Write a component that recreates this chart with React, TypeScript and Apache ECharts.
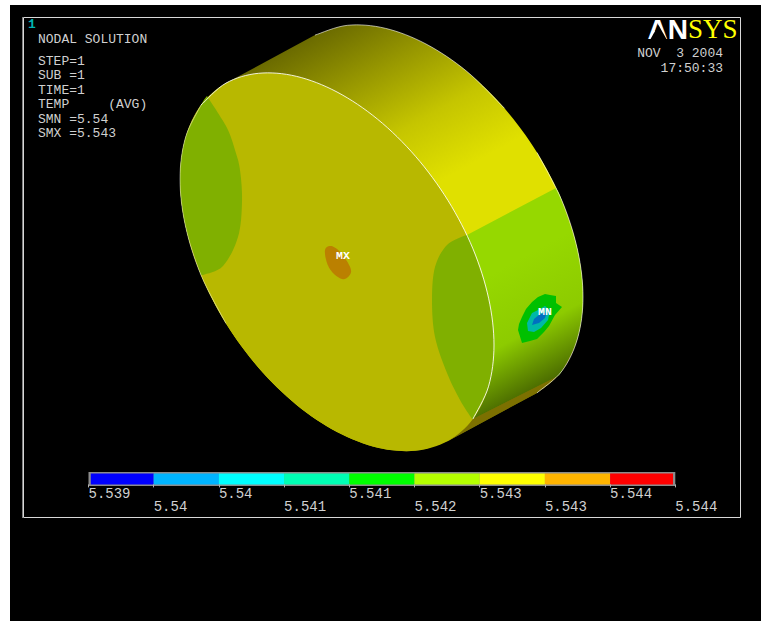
import React, { useEffect, useRef } from "react";
import * as echarts from "echarts";

type P = number[];

// ---- legend data
const legendTicks = [0, 1, 2, 3, 4, 5, 6, 7, 8, 9];
const legendLabels = ["5.539", "5.54", "5.54", "5.541", "5.541", "5.542", "5.543", "5.543", "5.544", "5.544"];
const legendColors = ["#0000ff", "#00b4ff", "#00ffff", "#00ffb4", "#00ff00", "#b4ff00", "#ffff00", "#ffb400", "#ff0000"];
const legendEdges = [0.035, 1, 2, 3, 4, 5, 6, 7, 8, 8.965];

// ---- geometry (image pixels)
const pageArea: P[] = [[10, 5], [761, 5], [761, 621], [10, 621]];
const frameLine: P[] = [[23.5, 17.5], [740.5, 17.5], [740.5, 517.5], [23.5, 517.5], [23.5, 17.5]];
const frameLeft: P[] = [[22.5, 17], [22.5, 518]];

const frontOutline: P[] = [
  [494, 345], [488.6, 386.2], [473, 418.9], [448, 440.9], [415.5, 450.7], [377.7, 447.7], [337, 432], [296.3, 404.7],
  [258.5, 367.7], [226, 323.5], [201, 275.1], [185.4, 225.8], [180, 179], [185.4, 137.8], [201, 105.1], [226, 83.1],
  [258.5, 73.3], [296.3, 76.3], [337, 92], [377.7, 119.3], [415.5, 156.3], [448, 200.5], [473, 248.9], [488.6, 298.2],
];
const backArc: P[] = [
  [315, 35.1], [347.5, 25.3], [385.3, 28.3], [426, 44], [466.7, 71.3], [504.5, 108.3], [537, 152.5], [562, 200.9],
  [577.6, 250.2], [583, 297], [577.6, 338.2], [562, 370.9], [537, 392.9],
];
const backEdgeTop: P[] = [[315, 35.1], [347.5, 25.3], [385.3, 28.3], [426, 44], [466.7, 71.3], [504.5, 108.3]];
const backEdgeRight: P[] = [[537, 152.5], [562, 200.9], [577.6, 250.2], [583, 297], [577.6, 338.2], [562, 370.9], [537, 392.9]];
const frontNearArc: P[] = [
  [448, 440.9], [415.5, 450.7], [377.7, 447.7], [337, 432], [296.3, 404.7], [258.5, 367.7], [226, 323.5], [201, 275.1],
  [185.4, 225.8], [180, 179], [185.4, 137.8], [201, 105.1], [226, 83.1],
];
const sideGreenFront: P[] = [[467, 235], [473, 248.9], [488.6, 298.2], [494, 345], [488.6, 386.2], [473, 418.9]];
const sideGreenBack: P[] = [[557.7, 376.2], [562, 370.9], [577.6, 338.2], [583, 297], [577.6, 250.2], [562, 200.9], [556, 188]];
const stripBack: P[] = [[557.7, 376.2], [548, 385], [537, 392.9]];
const stripFront: P[] = [[448, 440.9], [473, 418.9]];
const faceGreenLeftInner: P[] = [[207, 96], [218, 113], [228, 130], [235, 150], [240, 170], [242, 202], [238, 237], [223, 266], [203, 275]];
const faceGreenLeftOuter: P[] = [[201, 275.1], [185.4, 225.8], [180, 179], [185.4, 137.8], [201, 105.1], [207, 96]];
const faceGreenRightInner: P[] = [[466, 235], [447, 245], [435, 267], [432, 300], [435, 337], [447, 373], [460, 400], [472, 419]];
const spotMax: P[] = [[325, 250], [330, 246], [337, 249], [345, 258], [351, 270], [348, 277], [342, 279], [333, 273], [327, 263]];
const spotGreen: P[] = [[518, 330], [522, 343], [530, 341], [537, 339], [544, 332], [549, 326], [555, 315], [562, 307], [556, 303], [556, 296], [550, 295], [545, 294], [538, 297], [532, 302], [526, 309], [522, 317], [519, 324]];
const spotTeal: P[] = [[528, 331], [527, 323], [532, 313], [538, 310], [545, 306], [550, 310], [548, 320], [541, 328], [534, 332]];
const spotBlue: P[] = [[532, 325], [534, 319], [540, 314], [547, 312], [545, 318], [539, 323]];
const edgeFrontUpper: P[] = [
  [201, 105.1], [226, 83.1], [258.5, 73.3], [296.3, 76.3], [337, 92], [377.7, 119.3], [415.5, 156.3], [448, 200.5],
  [473, 248.9], [488.6, 298.2], [494, 345], [488.6, 386.2], [473, 418.9],
];
const edgeFrontLeft: P[] = [[226, 323.5], [201, 275.1], [185.4, 225.8], [180, 179], [185.4, 137.8], [201, 105.1]];
const logoCut: P[] = [[658.5, 25], [650, 40], [667, 40]];
const shadeAxis: P[] = [[226, 81], [429, 453]];
const shadeOffsets = [0, 0.15, 0.3, 0.45, 0.7, 0.86, 0.93, 1];
const shadeFactors = [0.47, 0.68, 0.88, 1, 1, 0.94, 0.7, 0.46];

// ---- text notes: text, x, y(middle)
const notesLeft: [string, number, number][] = [
  ["NODAL SOLUTION", 38, 39],
  ["STEP=1", 38, 61],
  ["SUB =1", 38, 75.5],
  ["TIME=1", 38, 90],
  ["TEMP     (AVG)", 38, 104.5],
  ["SMN =5.54", 38, 119],
  ["SMX =5.543", 38, 133.5],
];
const notesRight: [string, number, number][] = [
  ["NOV  3 2004", 723, 53],
  ["17:50:33", 723, 68],
];

const curve = (pts: P[], closed = false, n = 8): P[] => {
  const out: P[] = [];
  const L = pts.length;
  const at = (i: number) => (closed ? pts[(i + L) % L] : pts[Math.max(0, Math.min(L - 1, i))]);
  const segs = closed ? L : L - 1;
  for (let i = 0; i < segs; i++) {
    const [a, b, c, d] = [at(i - 1), at(i), at(i + 1), at(i + 2)];
    for (let j = 0; j < n; j++) {
      const t = j / n;
      const f = (k: number) =>
        0.5 * (2 * b[k] + (c[k] - a[k]) * t + (2 * a[k] - 5 * b[k] + 4 * c[k] - d[k]) * t * t + (3 * b[k] - a[k] - 3 * c[k] + d[k]) * t * t * t);
      out.push([f(0), f(1)]);
    }
  }
  if (!closed) out.push(pts[L - 1]);
  return out;
};

export default function App() {
  const ref = useRef<HTMLDivElement>(null);
  useEffect(() => {
    const chart = echarts.init(ref.current!, undefined, { renderer: "svg" });
    const shade = (r: number, g: number) => (api: any) => {
      const a = api.coord(shadeAxis[0]);
      const b = api.coord(shadeAxis[1]);
      return new echarts.graphic.LinearGradient(
        a[0], a[1], b[0], b[1],
        shadeOffsets.map((o, i) => ({
          offset: o,
          color: `rgb(${Math.round(r * shadeFactors[i])},${Math.round(g * shadeFactors[i])},0)`,
        })),
        true as any
      );
    };
    const fills: { pts: P[]; fill: any }[] = [
      { pts: pageArea, fill: "#000000" },
      { pts: [...curve(backArc), ...curve(frontNearArc)], fill: shade(224, 224) },
      { pts: [...curve(sideGreenFront), ...curve(sideGreenBack)], fill: shade(150, 216) },
      { pts: [...stripFront, ...curve(stripBack)], fill: "#7c7000" },
      { pts: spotGreen, fill: "#00c000" },
      { pts: spotTeal, fill: "#00b8a8" },
      { pts: spotBlue, fill: "#0070c0" },
      { pts: curve(frontOutline, true), fill: "#b8b800" },
      { pts: [...curve(faceGreenLeftInner), ...curve(faceGreenLeftOuter)], fill: "#80b000" },
      { pts: [...curve(faceGreenRightInner), ...curve(sideGreenFront.slice().reverse())], fill: "#80b000" },
      { pts: curve(spotMax, true), fill: "#bb8000" },
    ];
    const lines: { pts: P[]; color: string; opacity: number; width: number }[] = [
      { pts: frameLine, color: "#d8d8d8", opacity: 1, width: 1 },
      { pts: frameLeft, color: "#808080", opacity: 1, width: 1 },
      { pts: curve(edgeFrontUpper), color: "#ffffff", opacity: 0.85, width: 1 },
      { pts: curve(edgeFrontLeft), color: "#ffffff", opacity: 0.45, width: 1 },
      { pts: curve(backEdgeTop), color: "#ffffff", opacity: 0.6, width: 1 },
      { pts: curve(backEdgeRight), color: "#ffffff", opacity: 0.6, width: 1 },
    ];
    const texts: { t: string; x: number; y: number; font: string; fill: string; align: string }[] = [
      ...notesLeft.map(([t, x, y]) => ({ t, x, y, font: '13px "Liberation Mono"', fill: "#d0d0d0", align: "left" })),
      ...notesRight.map(([t, x, y]) => ({ t, x, y, font: '13px "Liberation Mono"', fill: "#d0d0d0", align: "right" })),
      { t: "1", x: 28, y: 24.5, font: 'bold 13px "Liberation Mono"', fill: "#00b4b4", align: "left" },
      { t: "MX", x: 336, y: 255.5, font: 'bold 11.5px "Liberation Mono"', fill: "#ffffff", align: "left" },
      { t: "MN", x: 538, y: 311, font: 'bold 11.5px "Liberation Mono"', fill: "#ffffff", align: "left" },
      { t: "AN", x: 688, y: 29, font: 'bold 28px "Liberation Sans"', fill: "#ffffff", align: "right" },
      { t: "SYS", x: 688, y: 29, font: '27px "Liberation Serif"', fill: "#ffff00", align: "left" },
    ];
    chart.setOption({
      animation: false,
      backgroundColor: "#ffffff",
      grid: [
        { left: 0, top: 0, width: 761, height: 621, show: false },
        { left: 88.5, top: 472, width: 586.8, height: 14, show: false },
      ],
      xAxis: [
        { type: "value", gridIndex: 0, min: 0, max: 761, show: false },
        {
          type: "value",
          gridIndex: 1,
          min: 0,
          max: 9,
          interval: 1,
          z: 20,
          axisLine: { show: false },
          splitLine: { show: false },
          axisTick: { show: true, length: 3, lineStyle: { color: "#b0b0b0", width: 1 } },
          axisLabel: {
            show: true,
            margin: 2,
            align: "left",
            verticalAlign: "top",
            lineHeight: 12.5,
            color: "#d0d0d0",
            fontFamily: "Liberation Mono",
            fontSize: 14,
            showMinLabel: true,
            showMaxLabel: true,
            hideOverlap: false,
            formatter: (v: number) => {
              const i = legendTicks.indexOf(Math.round(v));
              return i % 2 === 0 ? legendLabels[i] : "\n" + legendLabels[i];
            },
          },
        },
      ],
      yAxis: [
        { type: "value", gridIndex: 0, min: 0, max: 621, inverse: true, show: false },
        { type: "value", gridIndex: 1, min: -0.15, max: 1.15, show: false },
      ],
      series: [
        {
          type: "custom",
          xAxisIndex: 0,
          yAxisIndex: 0,
          clip: false,
          silent: true,
          data: fills.map((_, i) => [i]),
          renderItem: (p: any, api: any) => {
            const r = fills[p.dataIndex];
            return {
              type: "polygon",
              shape: { points: r.pts.map((q) => api.coord(q)) },
              style: { fill: typeof r.fill === "function" ? r.fill(api) : r.fill, stroke: "none" },
            };
          },
        },
        {
          type: "custom",
          xAxisIndex: 0,
          yAxisIndex: 0,
          clip: false,
          silent: true,
          data: lines.map((_, i) => [i]),
          renderItem: (p: any, api: any) => {
            const r = lines[p.dataIndex];
            return {
              type: "polyline",
              shape: { points: r.pts.map((q) => api.coord(q)) },
              style: { fill: "none", stroke: r.color, lineWidth: r.width, opacity: r.opacity },
            };
          },
        },
        {
          type: "custom",
          xAxisIndex: 0,
          yAxisIndex: 0,
          clip: false,
          silent: true,
          data: texts.map((_, i) => [i]),
          renderItem: (p: any, api: any) => {
            const r = texts[p.dataIndex];
            const c = api.coord([r.x, r.y]);
            return {
              type: "text",
              x: c[0],
              y: c[1],
              style: { text: r.t, font: r.font, fill: r.fill, align: r.align, verticalAlign: "middle" },
            };
          },
        },
        {
          type: "custom",
          xAxisIndex: 0,
          yAxisIndex: 0,
          clip: false,
          silent: true,
          data: [[0]],
          renderItem: (_p: any, api: any) => ({
            type: "polygon",
            shape: { points: logoCut.map((q) => api.coord(q)) },
            style: { fill: "#000000" },
          }),
        },
        {
          type: "custom",
          xAxisIndex: 1,
          yAxisIndex: 1,
          clip: false,
          silent: true,
          data: [[0]],
          renderItem: (_p: any, api: any) => {
            const a = api.coord([0, 1.15]);
            const b = api.coord([9, -0.15]);
            return {
              type: "rect",
              shape: { x: a[0], y: a[1], width: b[0] - a[0], height: b[1] - a[1] },
              style: { fill: "#8c8c8c" },
            };
          },
        },
        {
          type: "custom",
          xAxisIndex: 1,
          yAxisIndex: 1,
          clip: false,
          silent: true,
          data: legendColors.map((_, i) => [i]),
          renderItem: (p: any, api: any) => {
            const i = p.dataIndex;
            const a = api.coord([legendEdges[i], 1]);
            const b = api.coord([legendEdges[i + 1], 0]);
            return {
              type: "rect",
              shape: { x: a[0], y: a[1], width: b[0] - a[0], height: b[1] - a[1] },
              style: { fill: legendColors[i] },
            };
          },
        },
      ],
    });
    return () => chart.dispose();
  }, []);
  return <div ref={ref} style={{ position: "absolute", left: 0, top: 0, width: 761, height: 621 }} />;
}
